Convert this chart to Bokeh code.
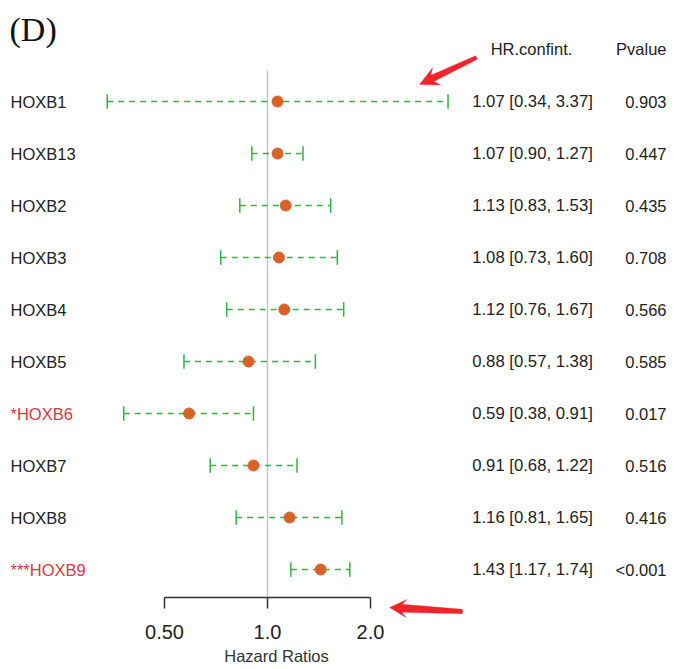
import math
from bokeh.plotting import figure
from bokeh.models import (Range1d, FixedTicker, ColumnDataSource, PolyAnnotation)
from bokeh.core.properties import value
from bokeh.embed import file_html
from bokeh.resources import INLINE

genes = ["HOXB1", "HOXB13", "HOXB2", "HOXB3", "HOXB4", "HOXB5", "*HOXB6", "HOXB7", "HOXB8", "***HOXB9"]
hr = [1.07, 1.07, 1.13, 1.08, 1.12, 0.88, 0.59, 0.91, 1.16, 1.43]
lower = [0.34, 0.90, 0.83, 0.73, 0.76, 0.57, 0.38, 0.68, 0.81, 1.17]
upper = [3.37, 1.27, 1.53, 1.60, 1.67, 1.38, 0.91, 1.22, 1.65, 1.74]
pvals = ["0.903", "0.447", "0.435", "0.708", "0.566", "0.585", "0.017", "0.516", "0.416", "<0.001"]
significant = [False, False, False, False, False, False, True, False, False, True]
ticks = [0.5, 1.0, 2.0]
tick_labels = ["0.50", "1.0", "2.0"]
x_title = "Hazard Ratios"

W, H = 675, 669
AXIS_PX = 597
# pixel -> data helpers (canvas pixel coords) for placing annotations
X0PX, PX_PER_DOUBLING = 267, 103
def dx(px):
    return 2 ** ((px - X0PX) / PX_PER_DOUBLING)
def dy(py):
    return 1 + (py - 101) / 52

rows = list(range(1, len(genes) + 1))
hr_text = [f"{h:.2f} [{l:.2f}, {u:.2f}]" for h, l, u in zip(hr, lower, upper)]
label_colors = ["#e0353f" if s else "#222222" for s in significant]

src = ColumnDataSource(dict(y=rows, gene=genes, hr=hr, lo=lower, up=upper,
                            hrt=hr_text, pv=pvals, col=label_colors,
                            ylo=[r - 0.14 for r in rows], yhi=[r + 0.14 for r in rows]))

p = figure(width=W, height=H, x_axis_type="log", output_backend="svg",
           toolbar_location=None, y_axis_location=None,
           x_range=Range1d(dx(0), dx(W)), y_range=Range1d(dy(H), dy(0)),
           min_border_left=0, min_border_right=0, min_border_top=0,
           min_border_bottom=0)
p.outline_line_color = None
p.grid.visible = False
p.background_fill_color = "white"

# reference line at HR = 1
p.segment(x0=[1.0], x1=[1.0], y0=[dy(70)], y1=[dy(AXIS_PX)], line_color="#c4c4c4", line_width=1.5)

# CI dashed lines and caps
green = "#2fb344"
p.segment(x0="lo", x1="up", y0="y", y1="y", source=src, line_color=green,
          line_width=1.5, line_dash="6 5")
p.segment(x0="lo", x1="lo", y0="ylo", y1="yhi", source=src, line_color=green, line_width=1.5)
p.segment(x0="up", x1="up", y0="ylo", y1="yhi", source=src, line_color=green, line_width=1.5)
p.scatter(x="hr", y="y", source=src, size=11, fill_color="#d8622a", line_color="#d8622a")

font = value("Liberation Sans")
p.text(x=dx(10), y="y", text="gene", source=src, text_color="col", text_font=font,
       text_font_size="16.5px", text_align="left", text_baseline="middle")
p.text(x=dx(532), y="y", text="hrt", source=src, text_color="#222222", text_font=font,
       text_font_size="16.7px", text_align="center", text_baseline="middle")
p.text(x=dx(666), y="y", text="pv", source=src, text_color="#222222", text_font=font,
       text_font_size="16.5px", text_align="right", text_baseline="middle")

p.text(x=[dx(531), dx(666)], y=[dy(48), dy(48)], text=["HR.confint.", "Pvalue"],
       text_color="#222222", text_font=font, text_font_size="16.5px",
       text_align=["center", "right"], text_baseline="middle")

p.text(x=[dx(9)], y=[dy(29)], text=["(D)"], text_color="#111111",
       text_font=value("Liberation Serif"), text_font_size="34px",
       text_align="left", text_baseline="middle")

# x-axis title (placed as text, slightly right of the axis centre as in the original)
p.text(x=[dx(276)], y=[dy(655)], text=[x_title], text_color="#333333", text_font=font,
       text_font_size="16.5px", text_align="center", text_baseline="middle")

# red arrows drawn as filled polygons in canvas pixels
def arrow_shape(tail, tip, head_len, head_hw, w_tail, w_head):
    ux, uy = tip[0] - tail[0], tip[1] - tail[1]
    d = math.hypot(ux, uy)
    ux, uy = ux / d, uy / d
    nx, ny = -uy, ux
    bx, by = tip[0] - head_len * ux, tip[1] - head_len * uy
    nbx, nby = bx + 0.25 * head_len * ux, by + 0.25 * head_len * uy
    xs = [tip[0], bx + head_hw * nx, nbx + w_head * nx, tail[0] + w_tail * nx,
          tail[0] - w_tail * nx, nbx - w_head * nx, bx - head_hw * nx]
    ys = [tip[1], by + head_hw * ny, nby + w_head * ny, tail[1] + w_tail * ny,
          tail[1] - w_tail * ny, nby - w_head * ny, by - head_hw * ny]
    return xs, ys

red = "#f2232a"
for tail, tip, hl, hw, wt, wh in [((476, 57), (419, 84), 19, 9.5, 2.0, 3.5),
                                  ((462, 611), (389, 607), 17, 9.0, 2.2, 4.0)]:
    xs, ys = arrow_shape(tail, tip, hl, hw, wt, wh)
    p.add_layout(PolyAnnotation(xs=xs, ys=ys, xs_units="canvas", ys_units="canvas",
                                fill_color=red, fill_alpha=1.0, line_color=red,
                                line_width=1, level="overlay"))

ax = p.xaxis[0]
ax.fixed_location = dy(AXIS_PX)
ax.ticker = FixedTicker(ticks=ticks)
ax.minor_tick_line_color = None
ax.bounds = (ticks[0], ticks[-1])
ax.major_label_overrides = {t: l for t, l in zip(ticks, tick_labels)}
ax.major_tick_out = 11
ax.major_tick_in = 0
ax.axis_line_color = "#333333"
ax.major_tick_line_color = "#333333"
ax.axis_line_width = 1.5
ax.major_tick_line_width = 1.5
ax.major_label_text_font = "Liberation Sans"
ax.major_label_text_font_size = "20px"
ax.major_label_text_color = "#222222"
ax.major_label_standoff = 16

open("out.html", "w").write(file_html(p, INLINE))
